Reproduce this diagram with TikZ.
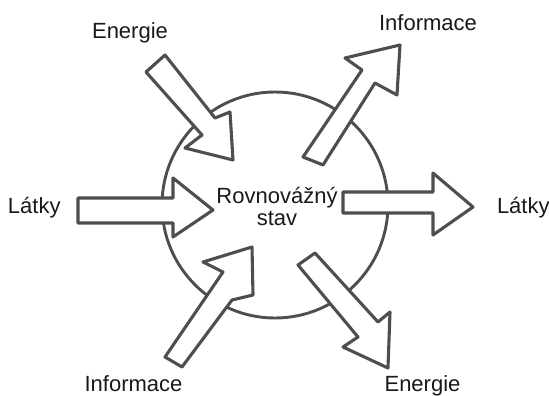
\documentclass[tikz,border=0pt]{standalone}
\usepackage{fontspec}
\setmainfont{Liberation Sans}
\definecolor{ink}{RGB}{78,78,78}
\definecolor{txt}{RGB}{25,25,25}
\begin{document}
\begin{tikzpicture}[x=1pt,y=-1pt,
  blockarrow/.style={draw=ink,line width=3.1pt,line join=round,fill=white},
  ring/.style={draw=ink,line width=2.9pt},
  lbl/.style={inner sep=0pt,outer sep=0pt,anchor=base,text=txt,font=\fontsize{22}{22}\selectfont}]
\useasboundingbox (0,0) rectangle (549,396);
% system boundary
\draw[ring] (275,205) circle[radius=113];
% Energie in (top-left)
\draw[blockarrow] (146,72) -- (165,55) -- (215,118) -- (230,112) -- (233,160) -- (185,148) -- (202,135) -- cycle;
% Latky in (left)
\draw[blockarrow] (78,198) -- (173,198) -- (173,178) -- (213,210) -- (173,237) -- (173,223) -- (78,223) -- cycle;
% Informace in (bottom-left)
\draw[blockarrow] (165,357) -- (223,272) -- (203,262) -- (252,247) -- (253,295) -- (232,300) -- (182,367) -- cycle;
% Informace out (top-right)
\draw[blockarrow] (303,157) -- (362,70) -- (345,58) -- (400,45) -- (397,95) -- (375,83) -- (323,165) -- cycle;
% Latky out (right)
\draw[blockarrow] (343,192) -- (433,192) -- (433,173) -- (473,207) -- (433,235) -- (433,213) -- (343,213) -- cycle;
% Energie out (bottom-right)
\draw[blockarrow] (298,265) -- (315,253) -- (378,322) -- (390,312) -- (388,368) -- (343,347) -- (358,337) -- cycle;
% labels
\node[lbl] (state1) at (277,203) {Rovnovážný};
\node[lbl] (state2) at (277,225) {stav};
\node[lbl] (enin) at (130,38.5) {Energie};
\node[lbl] (infout) at (428,31) {Informace};
\node[lbl,anchor=base west] (latin) at (8,213) {Látky};
\node[lbl,anchor=base west] (latout) at (497,213) {Látky};
\node[lbl] (infin) at (133.5,391) {Informace};
\node[lbl] (enout) at (422.5,391) {Energie};
\end{tikzpicture}
\end{document}
